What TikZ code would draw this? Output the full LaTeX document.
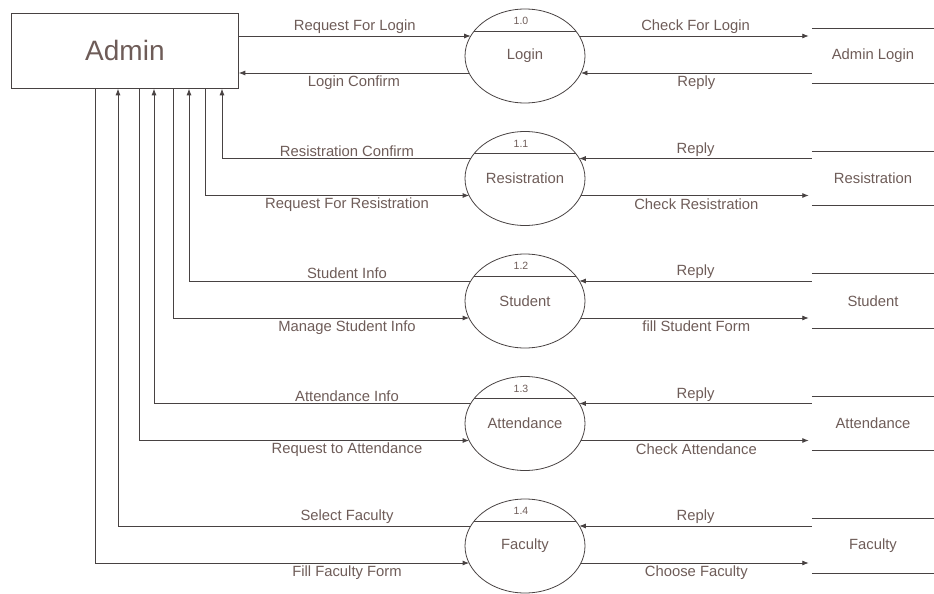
\documentclass[tikz,border=0pt]{standalone}
\usepackage{fontspec}
\setmainfont{Liberation Sans}
\usetikzlibrary{shapes.geometric,arrows.meta,calc}
\definecolor{dfdline}{RGB}{72,66,66}
\definecolor{dfdtext}{RGB}{110,92,88}

\begin{document}
\begin{tikzpicture}[x=1pt, y=-1pt,
	font=\fontsize{14.8}{17}\selectfont, text=dfdtext,
	proc/.style={draw=dfdline, line width=0.8pt, ellipse, minimum width=120pt, minimum height=94pt, inner sep=0pt},
	store/.style={minimum width=122pt, minimum height=54pt, inner sep=0pt},
	flow/.style={draw=dfdline, line width=0.8pt, -{Latex[length=6.5pt,width=5pt]}},
	lblup/.style={anchor=south, inner sep=2pt},
	lbldn/.style={anchor=north, inner sep=2.5pt}]
	\useasboundingbox (0,0) rectangle (934,594);
	\node[draw=dfdline, line width=0.8pt, anchor=north west, minimum width=227pt, minimum height=75pt, font=\fontsize{28}{32}\selectfont] (admin) at (11,13) {Admin};
	\foreach \n/\yc/\pnum/\pname/\stname in {lg/56/1.0/Login/Admin Login, rg/178.5/1.1/Resistration/Resistration, sd/301/1.2/Student/Student, att/423.5/1.3/Attendance/Attendance, fc/546/1.4/Faculty/Faculty}{
		\node[proc] (\n) at (525,\yc) {\pname};
		\draw[dfdline, line width=0.8pt] ($(\n.center)+(-50.8,-25)$) -- ($(\n.center)+(50.8,-25)$);
		\node[font=\fontsize{10.5}{12}\selectfont] (n\n) at ($(\n.center)+(-4,-35)$) {\pnum};
		\node[store] (s\n) at (873,\yc) {\stname};
		\draw[dfdline, line width=0.8pt] (s\n.north west) -- (s\n.north east) (s\n.south west) -- (s\n.south east);
		\coordinate (\n-ul) at ($(\n.center)+(-54.3,-20)$);
		\coordinate (\n-ll) at ($(\n.center)+(-55.9,17)$);
		\coordinate (\n-ur) at ($(\n.center)+(54.3,-20)$);
		\coordinate (\n-lr) at ($(\n.center)+(55.9,17)$);
	}
	\foreach \k/\xx in {1/222,2/205,3/189,4/173,5/154,6/139,7/118,8/95}
		\coordinate (v\k) at (\xx,0);
	\coordinate (lx) at (347,0);

	\draw[flow] (admin.east |- lg-ul) -- node[lblup, midway] (lg-la) {Request For Login} (lg-ul);
	\draw[flow] (lg-ll) -- node[lbldn, midway] (lg-lb) {Login Confirm} (admin.east |- lg-ll);
	\draw[flow, shorten >=3pt] (lg-ur) -- node[lblup, midway] (lg-ra) {Check For Login} (slg.west |- lg-ur);
	\draw[flow] (slg.west |- lg-lr) -- node[lbldn, midway] (lg-rb) {Reply} (lg-lr);

	\foreach \n/\va/\vb/\la/\lb/\rb in {rg/1/2/Resistration Confirm/Request For Resistration/Check Resistration, sd/3/4/Student Info/Manage Student Info/fill Student Form, att/5/6/Attendance Info/Request to Attendance/Check Attendance, fc/7/8/Select Faculty/Fill Faculty Form/Choose Faculty}{
		\draw[flow] (\n-ul) -| (admin.south -| v\va);
		\node[lblup] (\n-la) at (lx |- \n-ul) {\la};
		\draw[flow] (admin.south -| v\vb) |- (\n-ll);
		\node[lbldn] (\n-lb) at (lx |- \n-ll) {\lb};
		\draw[flow] (s\n.west |- \n-ur) -- node[lblup, midway] (\n-ra) {Reply} (\n-ur);
		\draw[flow, shorten >=3pt] (\n-lr) -- node[lbldn, midway] (\n-rb) {\rb} (s\n.west |- \n-lr);
	}
\end{tikzpicture}
\end{document}
